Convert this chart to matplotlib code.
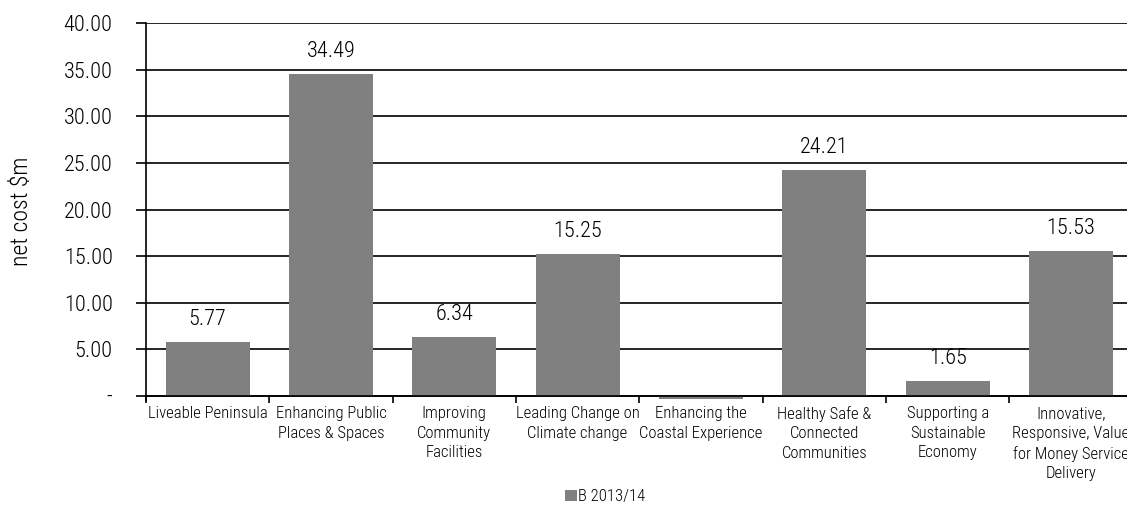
import matplotlib.pyplot as plt
from matplotlib.ticker import FuncFormatter, FixedLocator, NullFormatter

# fonte estreita, com reserva em DejaVu
plt.rcParams['font.family'] = ['Liberation Sans Narrow', 'Arial Narrow', 'Roboto Condensed',
                               'Archivo Narrow', 'PT Sans Narrow', 'Pragati Narrow', 'DejaVu Sans']
plt.rcParams['font.weight'] = 'light'
plt.rcParams['axes.labelweight'] = 'light'

# Net cost per strategic theme, $m
temas = ['Liveable Peninsula', 'Enhancing Public\nPlaces & Spaces', 'Improving\nCommunity\nFacilities',
         'Leading Change on\nClimate change', 'Enhancing the\nCoastal Experience',
         'Healthy Safe &\nConnected\nCommunities', 'Supporting a\nSustainable\nEconomy',
         'Innovative,\nResponsive, Value\nfor Money Service\nDelivery']
valores = [5.77, 34.49, 6.34, 15.25, -0.3, 24.21, 1.65, 15.53]
rotulos = ['5.77', '34.49', '6.34', '15.25', '', '24.21', '1.65', '15.53']
serie = 'B 2013/14'

fig = plt.figure(figsize=(11.27, 5.11), dpi=100)
ax = fig.add_axes([0.1295, 0.2168, 0.8755, 0.738])

x = range(len(temas))
barras = ax.bar(x, valores, width=0.68, color='#808080', label=serie, zorder=3)

for xi, v, r in zip(x, valores, rotulos):
    if r:
        ax.text(xi, v + 1.3, r, ha='center', va='bottom', fontsize=16)

ax.set_ylim(-0.45, 40)
ax.set_xlim(-0.5, len(temas) - 0.5)
ax.set_yticks(range(0, 41, 5))
ax.yaxis.set_major_formatter(FuncFormatter(lambda v, p: '-' if v == 0 else f'{v:.2f}'))
ax.tick_params(axis='y', labelsize=16, length=7, width=1.2, pad=17)
ax.grid(axis='y', color='black', linewidth=1.2, zorder=0)

# marcas entre as categorias, nomes centrados por baixo
ax.xaxis.set_major_locator(FixedLocator([i - 0.5 for i in range(len(temas) + 1)]))
ax.xaxis.set_major_formatter(NullFormatter())
ax.tick_params(axis='x', which='major', length=5, width=1.2, direction='out')
for xi, t in zip(x, temas):
    ax.annotate(t, xy=(xi, 0), xycoords=('data', 'axes fraction'), xytext=(0, -4),
                textcoords='offset points', ha='center', va='top', fontsize=12,
                linespacing=1.4, annotation_clip=False)

for s in ['top', 'right']:
    ax.spines[s].set_visible(False)
ax.spines['left'].set_linewidth(1.2)
ax.spines['bottom'].set_linewidth(1.2)
ax.spines['bottom'].set_position(('data', 0))
ax.spines['bottom'].set_zorder(4)

ax.set_ylabel('net cost $m', fontsize=17, labelpad=22)

fig.legend(handles=[barras], labels=[serie], loc='center', bbox_to_anchor=(0.537, 0.028),
           frameon=False, fontsize=12, handlelength=0.7, handleheight=0.7, handletextpad=0.1)

fig.savefig('out.png', dpi=100)
